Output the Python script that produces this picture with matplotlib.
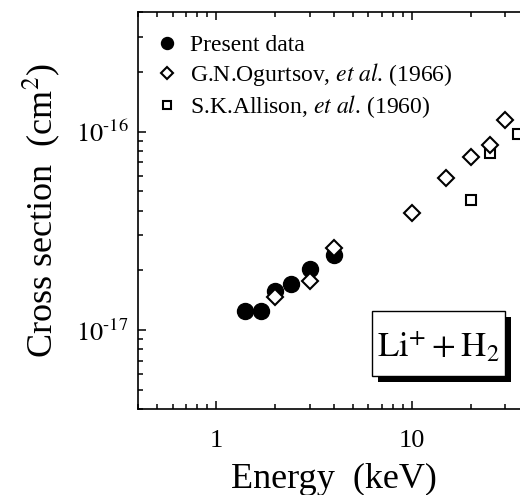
import matplotlib
matplotlib.use("Agg")
import matplotlib.pyplot as plt
from matplotlib import patheffects
from matplotlib.patches import Rectangle
from matplotlib.ticker import FixedLocator, LogLocator, FixedFormatter, NullFormatter

plt.rcParams['font.family'] = ['Liberation Serif', 'DejaVu Serif']
plt.rcParams['mathtext.fontset'] = 'stix'

# present data (filled circles)
present_e = [1.4, 1.7, 2.0, 2.4, 3.0, 4.0]
present_sigma = [1.25e-17, 1.25e-17, 1.57e-17, 1.71e-17, 2.03e-17, 2.4e-17]

# G.N.Ogurtsov et al. (1966) (open diamonds)
ogurtsov_e = [2.0, 3.0, 4.0, 10.0, 15.0, 20.0, 25.0, 30.0]
ogurtsov_sigma = [1.46e-17, 1.76e-17, 2.59e-17, 3.9e-17, 5.85e-17, 7.4e-17, 8.55e-17, 1.14e-16]

# S.K.Allison et al. (1960) (open squares)
allison_e = [20.0, 25.0, 35.0]
allison_sigma = [4.52e-17, 7.8e-17, 9.7e-17]

x_ticks = [1, 10]
x_tick_labels = ['1', '10']
y_ticks = [1e-17, 1e-16]
y_tick_labels = [r'$10^{\text{-}17}$', r'$10^{\text{-}16}$']

fig = plt.figure(figsize=(5.2, 4.95), dpi=100)
# axes runs slightly past the right edge of the picture, as in the original crop
ax = fig.add_axes([138.3 / 520, (495 - 409) / 495, 391.4 / 520, 397 / 495])

ax.plot(present_e, present_sigma, 'o', color='black', markersize=11.5,
        label='Present data', zorder=3)
ax.plot(ogurtsov_e, ogurtsov_sigma, 'D', mfc='white', mec='black', mew=1.5,
        markersize=8.5, label=r'G.N.Ogurtsov, $\it{et\ al}$. (1966)', zorder=4)
ax.plot(allison_e, allison_sigma, 's', mfc='white', mec='black', mew=1.5,
        markersize=7.5, label=r'S.K.Allison, $\it{et\ al}$. (1960)', zorder=2)

ax.set_xscale('log')
ax.set_yscale('log')
ax.set_xlim(0.4, 40)
ax.set_ylim(4e-18, 4e-16)

ax.xaxis.set_major_locator(FixedLocator(x_ticks))
ax.xaxis.set_major_formatter(FixedFormatter(x_tick_labels))
ax.xaxis.set_minor_locator(LogLocator(base=10, subs=range(2, 10)))
ax.xaxis.set_minor_formatter(NullFormatter())
ax.yaxis.set_major_locator(FixedLocator(y_ticks))
ax.yaxis.set_major_formatter(FixedFormatter(y_tick_labels))
ax.yaxis.set_minor_locator(LogLocator(base=10, subs=range(2, 10)))
ax.yaxis.set_minor_formatter(NullFormatter())

ax.tick_params(which='both', direction='in', top=True, right=True, width=1.1,
               labelsize=19)
ax.tick_params(axis='x', pad=15)
ax.tick_params(axis='y', pad=7)
ax.tick_params(which='major', length=6)
ax.tick_params(which='minor', length=3.5)
for s in ax.spines.values():
    s.set_linewidth(1.2)

ax.set_xlabel('Energy  (keV)', fontsize=26, labelpad=8)
ax.set_ylabel(r'Cross section  (cm$^2$)', fontsize=26, labelpad=10)

ax.legend(loc='upper left', bbox_to_anchor=(0.0, 0.985), frameon=False,
          fontsize=17, markerscale=0.75, handlelength=1.0, handletextpad=0.5,
          labelspacing=0.22, borderaxespad=0.3)

# label box with a drop shadow
box = Rectangle((0.597, 0.083), 0.34, 0.164, transform=ax.transAxes,
                fc='white', ec='black', lw=1.0, zorder=5)
box.set_path_effects([
    patheffects.SimplePatchShadow(offset=(4.5, -4.5), shadow_rgbFace='black', alpha=1.0),
    patheffects.Normal()])
ax.add_patch(box)
ax.text(0.767, 0.131, r'$\mathrm{Li^{+}+H_{2}}$', transform=ax.transAxes,
        fontsize=25, ha='center', va='baseline', zorder=6)

fig.savefig('out.png', dpi=100)
